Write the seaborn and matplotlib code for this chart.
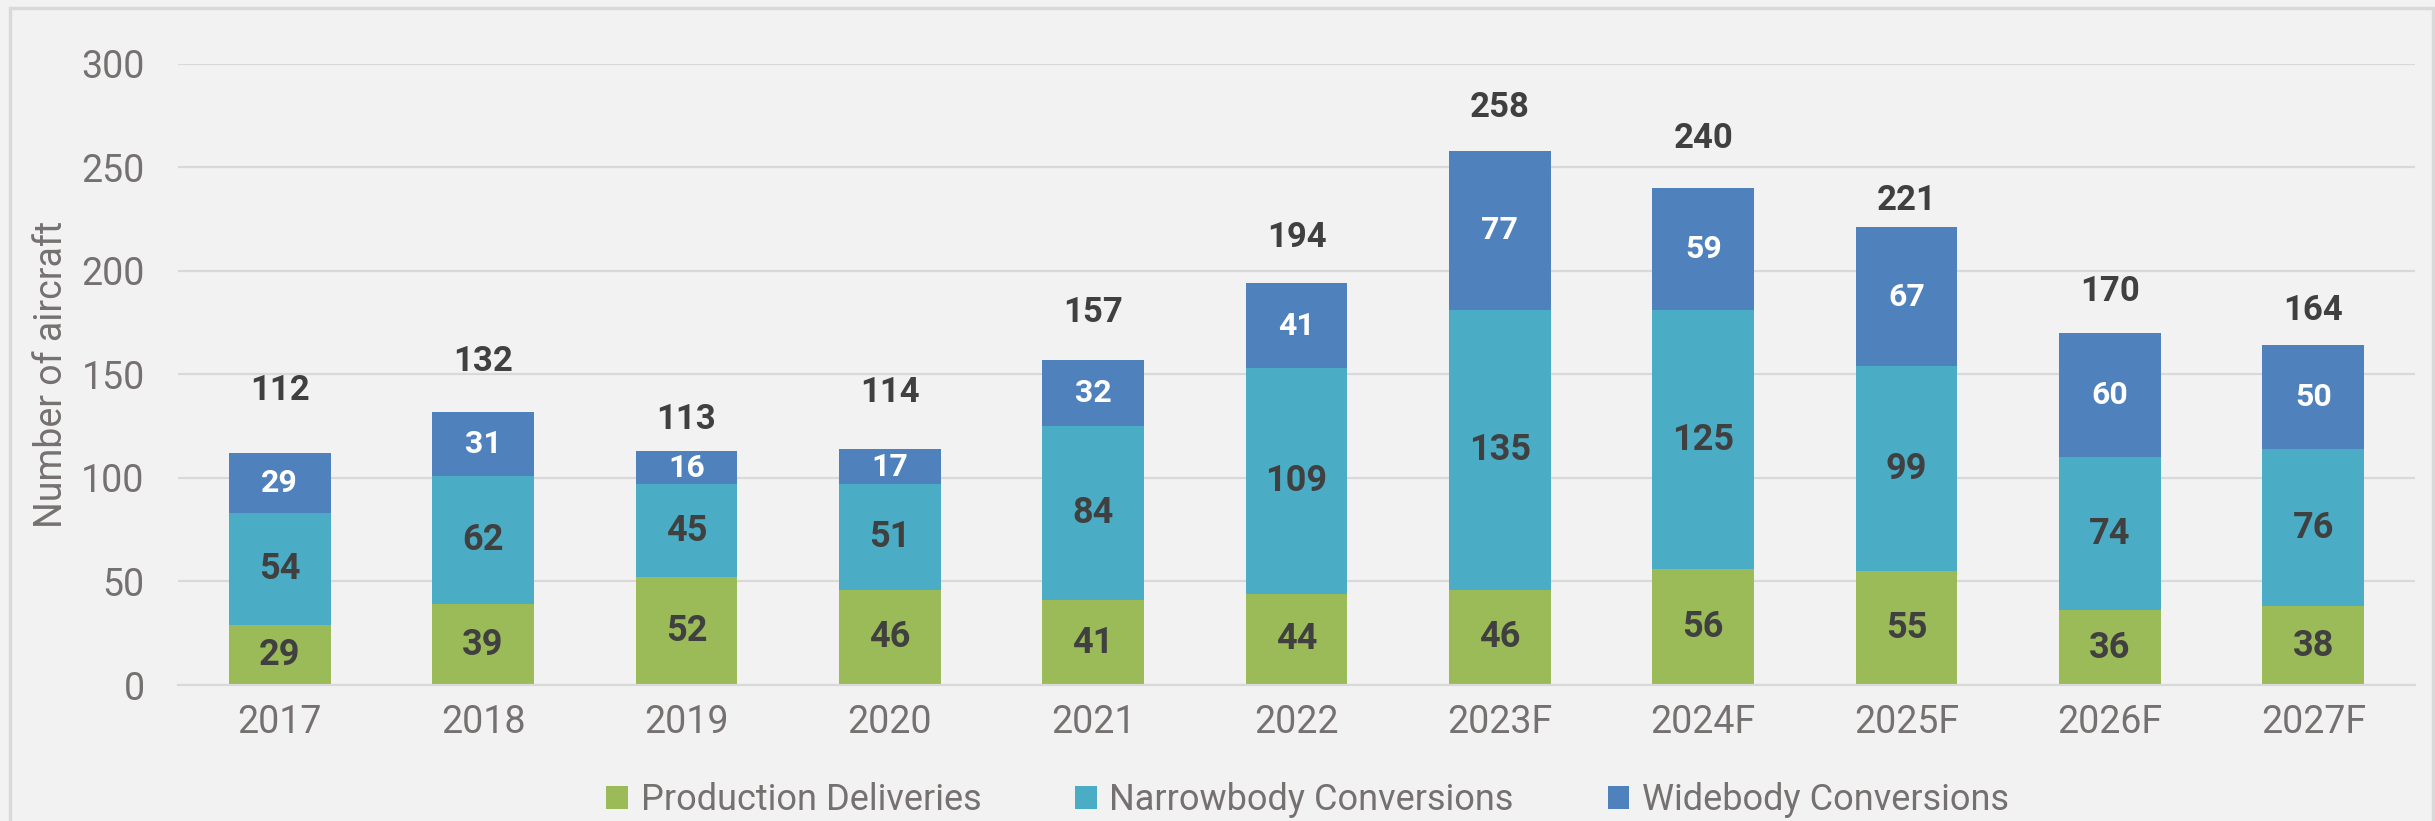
import matplotlib
matplotlib.use("Agg")
import matplotlib.pyplot as plt
import seaborn as sns
import pandas as pd
import numpy as np
from matplotlib.patches import Rectangle, Patch

years = ["2017", "2018", "2019", "2020", "2021", "2022", "2023F", "2024F", "2025F", "2026F", "2027F"]
production = [29, 39, 52, 46, 41, 44, 46, 56, 55, 36, 38]
narrowbody = [54, 62, 45, 51, 84, 109, 135, 125, 99, 74, 76]
widebody = [29, 31, 16, 17, 32, 41, 77, 59, 67, 60, 50]
totals = [112, 132, 113, 114, 157, 194, 258, 240, 221, 170, 164]

# layout: vertical offset (data units) of the total labels above the bar tops
total_label_offsets = [30, 24, 15, 27, 23, 22, 21, 24, 13, 20, 17]

series_names = ["Production Deliveries", "Narrowbody Conversions", "Widebody Conversions"]
colors = ["#9BBB59", "#4BACC6", "#4F81BD"]

sns.set_theme(style="white")
plt.rcParams["font.family"] = ["Roboto", "DejaVu Sans"]

BG = "#F2F2F2"
fig = plt.figure(figsize=(24.35, 8.21), dpi=100, facecolor=BG)
ax = fig.add_axes([178 / 2435, 1 - 685 / 821, (2415 - 178) / 2435, (685 - 63.7) / 821])
ax.set_facecolor(BG)

df = pd.DataFrame({"year": years, "prod": production, "narrow": narrowbody, "wide": widebody})
df["c1"] = df["prod"]
df["c2"] = df["prod"] + df["narrow"]
df["c3"] = df["c2"] + df["wide"]

# draw cumulative layers from tallest to shortest
for col, colr in zip(["c3", "c2", "c1"], colors[::-1]):
    sns.barplot(data=df, x="year", y=col, color=colr, width=0.5, linewidth=0,
                saturation=1, ax=ax, zorder=3)

ax.set_ylim(0, 300)
ax.set_xlim(-0.5, len(years) - 0.5)
ax.set_yticks(range(0, 301, 50))
ax.grid(axis="y", color="#D9D9D9", linewidth=1.6, zorder=0)
ax.set_axisbelow(True)
for s in ["top", "right", "left"]:
    ax.spines[s].set_visible(False)
ax.spines["bottom"].set_color("#D9D9D9")
ax.spines["bottom"].set_linewidth(1.6)
ax.spines["bottom"].set_zorder(4)

tick_color = "#767171"
ax.tick_params(axis="y", length=0, pad=24, labelsize=27, labelcolor=tick_color)
ax.tick_params(axis="x", which="major", length=0, pad=14, labelsize=27, labelcolor=tick_color)
ax.set_xticks(np.arange(-0.5, len(years), 1.0), minor=True)
ax.tick_params(axis="x", which="minor", length=9, width=1.6, color="#D9D9D9", direction="out")
ax.set_xlabel("")
ax.set_ylabel("Number of aircraft", fontsize=27, color=tick_color, labelpad=8)

label_dark = "#404040"
for i in range(len(years)):
    b = 0
    for vals, lc, fs in [(production, label_dark, 26), (narrowbody, label_dark, 26), (widebody, "white", 23)]:
        v = vals[i]
        ax.text(i, b + v / 2, str(v), ha="center", va="center", fontsize=fs,
                fontweight="bold", color=lc, zorder=5)
        b += v
    ax.text(i, totals[i] + total_label_offsets[i], str(totals[i]), ha="center", va="center",
            fontsize=25, fontweight="bold", color=label_dark, zorder=5)

handles = [Patch(facecolor=c, edgecolor="none") for c in colors]
fig.legend(handles, series_names, loc="center", bbox_to_anchor=(0.537, 1 - 800 / 821),
           ncol=3, frameon=False, fontsize=26, labelcolor=tick_color,
           handlelength=0.6, handleheight=0.6, handletextpad=0.35, columnspacing=2.6)

fig.add_artist(Rectangle((10 / 2435, -0.02), (2433 - 10) / 2435, 1 - 8 / 821 + 0.02,
                         transform=fig.transFigure, fill=False, edgecolor="#D9D9D9",
                         linewidth=2.5))

fig.savefig("out.png", dpi=100, facecolor=BG)
